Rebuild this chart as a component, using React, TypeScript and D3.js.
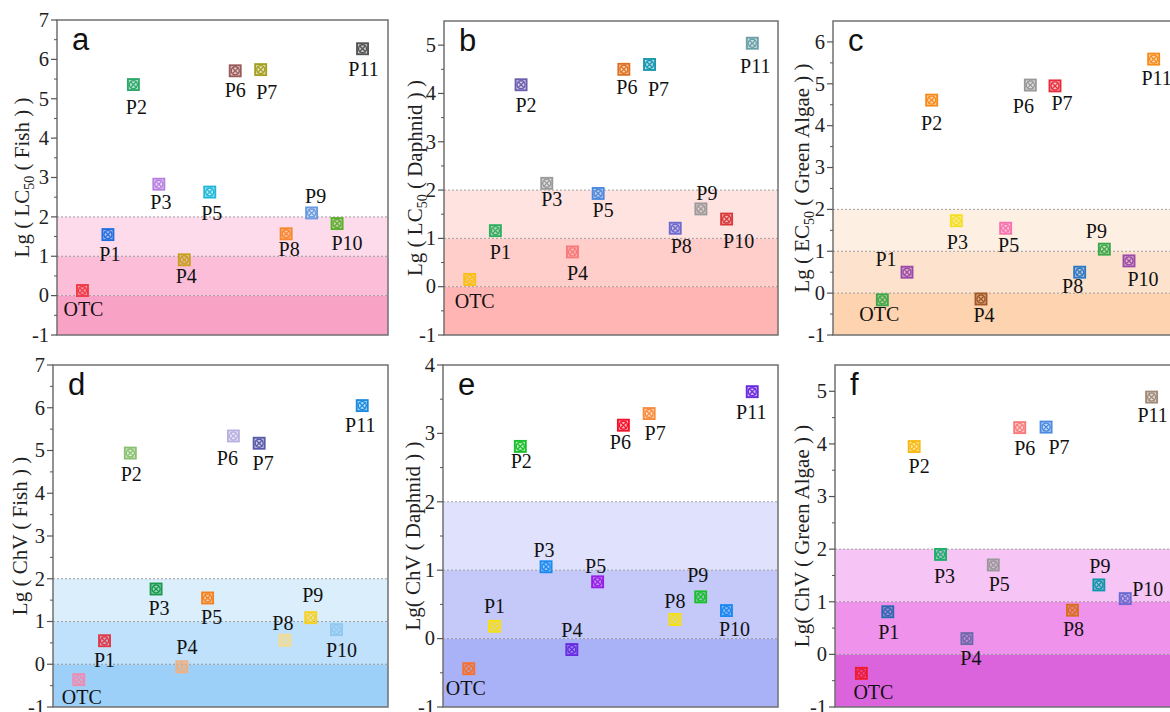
import React from "react";
import * as d3 from "d3";

// ---------------- data ----------------
const categories = ["OTC", "P1", "P2", "P3", "P4", "P5", "P6", "P7", "P8", "P9", "P10", "P11"];

const lc50Fish = [0.13, 1.55, 5.36, 2.83, 0.91, 2.63, 5.71, 5.74, 1.57, 2.1, 1.83, 6.27];
const lc50Daphnid = [0.15, 1.16, 4.18, 2.14, 0.72, 1.93, 4.5, 4.6, 1.21, 1.61, 1.4, 5.04];
const ec50Algae = [-0.16, 0.5, 4.61, 1.73, -0.14, 1.55, 4.97, 4.95, 0.5, 1.05, 0.77, 5.59];
const chvFish = [-0.36, 0.55, 4.94, 1.76, -0.06, 1.55, 5.34, 5.17, 0.56, 1.09, 0.81, 6.05];
const chvDaphnid = [-0.44, 0.18, 2.81, 1.05, -0.16, 0.83, 3.12, 3.29, 0.28, 0.61, 0.41, 3.61];
const chvAlgae = [-0.36, 0.81, 3.95, 1.9, 0.3, 1.7, 4.31, 4.32, 0.84, 1.32, 1.06, 4.89];

// toxicity class boundaries drawn as shaded bands
const bandEdges = [-1, 0, 1, 2];

// ---------------- colours ----------------
const colorsA = ["#f03c46", "#1f6fe0", "#2ea86a", "#b77fe0", "#c8a020", "#1fb8d8", "#9a5a5a", "#a6a020", "#f7862a", "#6a9ae0", "#5ab02a", "#555555"];
const colorsB = ["#f8c010", "#2eb060", "#6e5eb0", "#999999", "#f87a7a", "#4a8ae0", "#e07020", "#1a98b0", "#6a6ad0", "#9a9a9a", "#d83a3a", "#6aa0a8"];
const colorsC = ["#3aa84a", "#9a4aaa", "#f88a1a", "#f4e020", "#a05a2a", "#f870b0", "#999999", "#e82a3a", "#2a7ac8", "#3aa84a", "#9a4aaa", "#f88a1a"];
const colorsD = ["#f08ab0", "#e03a4a", "#8ac070", "#1a9a4a", "#f0b080", "#f8801a", "#b8b0e0", "#5a5aaa", "#f4dc90", "#f8d020", "#90c8f0", "#1a8ae0"];
const colorsE = ["#f8702a", "#f8e010", "#1ac02a", "#1a8af0", "#6a2ae0", "#9a1ae8", "#f8102a", "#f88a3a", "#f8e010", "#1ac02a", "#1a8af0", "#6a2ae0"];
const colorsF = ["#f01a2a", "#2a6ab0", "#f8b810", "#1ab06a", "#6a6aa8", "#999999", "#f87a7a", "#4a8ae0", "#d8701a", "#0a98a8", "#6a6ad0", "#a08a7a"];

const bandsA = ["#f8a2c6", "#fbbdd8", "#fddbea"];
const bandsB = ["#ffb5b3", "#ffcdca", "#ffe3e1"];
const bandsC = ["#fdd3b0", "#fde3cd", "#feefe3"];
const bandsD = ["#9dd0f8", "#bfe1fb", "#dbeefc"];
const bandsE = ["#aab2f7", "#c4c9fa", "#dfe1fd"];
const bandsF = ["#db64dd", "#ee92ec", "#f6c5f6"];

// label offsets from marker centre [dx, dy, anchor]
type Off = [number, number, string?];
const offA: Off[] = [[1, 25], [2, 26], [3, 29], [2, 25], [2, 23], [2, 28], [0, 26], [6, 29], [3, 22], [4, -10], [10, 26], [1, 27]];
const offB: Off[] = [[5, 29], [5, 28], [5, 27], [5, 23], [5, 28], [5, 24], [3, 25], [9, 32], [6, 25], [6, -9], [12, 29], [3, 30]];
const offC: Off[] = [[-3, 21], [-21, -6], [0, 30], [1, 28], [3, 23], [3, 24], [-7, 28], [7, 24], [-7, 21], [-8, -11], [14, 25], [3, 26]];
const offD: Off[] = [[3, 24], [0, 26], [1, 28], [3, 26], [5, -13], [4, 26], [-6, 29], [4, 27], [-2, -10], [2, -16], [5, 27], [-2, 26]];
const offE: Off[] = [[-3, 26], [0, -13], [1, 22], [-2, -10], [0, -13], [-2, -9], [-3, 24], [6, 26], [0, -11], [-3, -15], [8, 25], [-1, 27]];
const offF: Off[] = [[12, 26], [1, 27], [5, 26], [4, 29], [4, 26], [6, 26], [5, 27], [13, 27], [1, 26], [1, -12], [5, -3, "start"], [1, 25]];

const serif = "'Liberation Serif', 'Times New Roman', serif";
const sans = "'Liberation Sans', Arial, sans-serif";

type PanelProps = {
  left: number; right: number; top: number; bottom: number;
  yMax: number; xPad: number;
  values: number[]; colors: string[]; bands: string[]; offsets: Off[];
  letter: string; labelX: number;
  yLabel: React.ReactNode;
};

const Marker = ({ x, y, c }: { x: number; y: number; c: string }) => (
  <g transform={`translate(${x},${y})`}>
    <rect x={-5.5} y={-5.5} width={11} height={11} fill={c} fillOpacity={0.3} stroke={c} strokeWidth={1.9} />
    <circle r={4} fill="none" stroke={c} strokeWidth={1.4} />
    <line x1={-3.3} y1={-3.3} x2={3.3} y2={3.3} stroke={c} strokeWidth={1.3} />
    <line x1={-3.3} y1={3.3} x2={3.3} y2={-3.3} stroke={c} strokeWidth={1.3} />
  </g>
);

const Panel = (p: PanelProps) => {
  const x = d3.scalePoint<string>().domain(categories).range([p.left, p.right]).padding(p.xPad);
  const y = d3.scaleLinear().domain([-1, p.yMax]).range([p.bottom, p.top]);
  const major = d3.range(-1, Math.floor(p.yMax) + 1);
  const minor = d3.range(-0.5, p.yMax, 1);

  return (
    <g>
      {p.bands.map((b, i) => (
        <rect key={i} x={p.left} width={p.right - p.left}
          y={y(bandEdges[i + 1])} height={y(bandEdges[i]) - y(bandEdges[i + 1])} fill={b} />
      ))}
      {[0, 1, 2].map(v => (
        <line key={v} x1={p.left} x2={p.right} y1={y(v)} y2={y(v)}
          stroke="#8a8a8a" strokeWidth={0.8} strokeDasharray="2 2" />
      ))}
      <rect x={p.left} y={p.top} width={p.right - p.left} height={p.bottom - p.top}
        fill="none" stroke="#707070" strokeWidth={1.5} />
      {major.map(v => (
        <g key={v}>
          <line x1={p.left - 6} x2={p.left} y1={y(v)} y2={y(v)} stroke="#555" strokeWidth={1.2} />
          <text x={p.left - 8} y={y(v)} dy="0.33em" textAnchor="end"
            fontFamily={serif} fontSize={20.5} fill="#222">{v}</text>
        </g>
      ))}
      {minor.map(v => (
        <line key={v} x1={p.left - 3} x2={p.left} y1={y(v)} y2={y(v)} stroke="#555" strokeWidth={1} />
      ))}
      <text x={p.left + 15} y={p.top + 30} fontFamily={sans} fontSize={31} fill="#111">{p.letter}</text>
      <text transform={`translate(${p.labelX},${(p.top + p.bottom) / 2}) rotate(-90)`}
        dy="0.35em" textAnchor="middle" fontFamily={serif} fontSize={21} fill="#222">
        {p.yLabel}
      </text>
      {categories.map((c, i) => {
        const cx = x(c)!;
        const cy = y(p.values[i]);
        const o = p.offsets[i];
        return (
          <g key={c}>
            <Marker x={cx} y={cy} c={p.colors[i]} />
            <text x={o[2] === "start" ? cx + 7 : cx + o[0]} y={cy + o[1]}
              textAnchor={o[2] === "start" ? "start" : "middle"}
              fontFamily={serif} fontSize={20} fill="#111">{c}</text>
          </g>
        );
      })}
    </g>
  );
};

const Sub = ({ t }: { t: string }) => (
  <>
    <tspan dy="5" fontSize={14}>{t}</tspan>
    <tspan dy="-5">{"\u00a0"}</tspan>
  </>
);

export default function App() {
  return (
    <svg width={1170} height={712} style={{ position: "absolute", left: 0, top: 0, background: "#fff" }}>
      <Panel left={57} right={388} top={20} bottom={335} yMax={7} xPad={1}
        values={lc50Fish} colors={colorsA} bands={bandsA} offsets={offA} letter="a" labelX={22}
        yLabel={<>Lg ( LC<Sub t="50" />( Fish ) )</>} />
      <Panel left={444} right={778} top={21} bottom={335} yMax={5.5} xPad={1}
        values={lc50Daphnid} colors={colorsB} bands={bandsB} offsets={offB} letter="b" labelX={415}
        yLabel={<>Lg ( LC<Sub t="50" />( Daphnid ) )</>} />
      <Panel left={833} right={1203} top={21} bottom={335} yMax={6.5} xPad={2}
        values={ec50Algae} colors={colorsC} bands={bandsC} offsets={offC} letter="c" labelX={802}
        yLabel={<>Lg ( EC<Sub t="50" />( Green Algae ) )</>} />
      <Panel left={53} right={388} top={365} bottom={707} yMax={7} xPad={1}
        values={chvFish} colors={colorsD} bands={bandsD} offsets={offD} letter="d" labelX={20}
        yLabel={<>Lg ( ChV ( Fish ) )</>} />
      <Panel left={443} right={778} top={365} bottom={707} yMax={4} xPad={1}
        values={chvDaphnid} colors={colorsE} bands={bandsE} offsets={offE} letter="e" labelX={413}
        yLabel={<>Lg( ChV ( Daphnid ) )</>} />
      <Panel left={835} right={1178} top={365} bottom={707} yMax={5.5} xPad={1}
        values={chvAlgae} colors={colorsF} bands={bandsF} offsets={offF} letter="f" labelX={802}
        yLabel={<>Lg( ChV ( Green Algae ) )</>} />
    </svg>
  );
}
